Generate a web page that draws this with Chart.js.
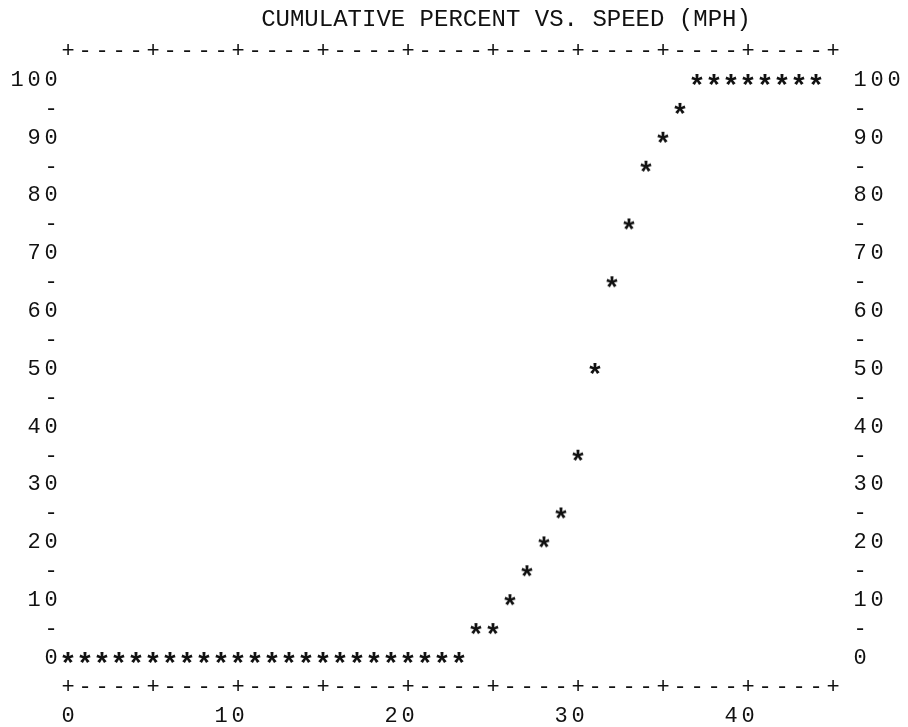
<!DOCTYPE html>
<html>
<head>
<meta charset="utf-8">
<title>Cumulative percent vs. speed</title>
<script src="https://cdn.jsdelivr.net/npm/chart.js@4/dist/chart.umd.min.js"></script>
<style>
  html, body { margin: 0; padding: 0; background: #fff; }
  #wrap { width: 908px; height: 727px; }
</style>
</head>
<body>
<div id="wrap"><canvas id="grafico" width="908" height="727"></canvas></div>
<script>
const speedMph = [0, 1, 2, 3, 4, 5, 6, 7, 8, 9, 10, 11, 12, 13, 14, 15, 16, 17, 18, 19, 20, 21, 22, 23,
  24, 25, 26, 27, 28, 29, 30, 31, 32, 33, 34, 35, 36, 37, 38, 39, 40, 41, 42, 43, 44];
const cumPercent = [0, 0, 0, 0, 0, 0, 0, 0, 0, 0, 0, 0, 0, 0, 0, 0, 0, 0, 0, 0, 0, 0, 0, 0,
  5, 5, 10, 15, 20, 25, 35, 50, 65, 75, 85, 90, 95, 100, 100, 100, 100, 100, 100, 100, 100];

const yTickValues = [0, 10, 20, 30, 40, 50, 60, 70, 80, 90, 100];
const yTickLabels = ["0", "10", "20", "30", "40", "50", "60", "70", "80", "90", "100"];
const yHalfTicks = [5, 15, 25, 35, 45, 55, 65, 75, 85, 95];
const xTickValues = [0, 10, 20, 30, 40];
const xTickLabels = ["0", "10", "20", "30", "40"];
const chartTitle = "CUMULATIVE PERCENT VS. SPEED (MPH)";

const ink = "#111";
const mono = "'Liberation Mono', 'DejaVu Sans Mono', monospace";

// Asterisco de impresora como estilo de punto
function asterisco() {
  const c = document.createElement("canvas");
  c.width = 22;
  c.height = 22;
  const g = c.getContext("2d");
  g.fillStyle = ink;
  g.font = "bold 29px " + mono;
  g.textAlign = "center";
  g.textBaseline = "alphabetic";
  const m = g.measureText("*");
  const base = 11 + (m.actualBoundingBoxAscent - m.actualBoundingBoxDescent) / 2;
  g.fillText("*", 11, base);
  return c;
}

// Marco, marcas y etiquetas en caracteres, colocados con las escalas
const marcoAscii = {
  id: "marcoAscii",
  afterDraw(chart) {
    const { ctx, scales: { x, y } } = chart;
    ctx.save();
    ctx.fillStyle = ink;
    ctx.font = "22px " + mono;
    ctx.textAlign = "center";
    ctx.textBaseline = "middle";
    const put = (ch, xv, yv) => ctx.fillText(ch, x.getPixelForValue(xv), y.getPixelForValue(yv));

    // bordes superior e inferior
    for (let i = 0; i <= 45; i++) {
      const ch = i % 5 === 0 ? "+" : "-";
      put(ch, i, 105);
      put(ch, i, -5);
    }

    // eje izquierdo (alineado a la derecha) y derecho (alineado a la izquierda)
    yTickValues.forEach((v, k) => {
      const lab = yTickLabels[k];
      for (let j = 0; j < lab.length; j++) {
        put(lab[j], -lab.length + j, v);
        put(lab[j], 46.6 + j, v);
      }
    });
    yHalfTicks.forEach(v => {
      put("-", -1, v);
      put("-", 46.6, v);
    });

    // etiquetas del eje x
    xTickValues.forEach((v, k) => {
      const lab = xTickLabels[k];
      for (let j = 0; j < lab.length; j++) {
        put(lab[lab.length - 1 - j], v - j, -10);
      }
    });

    // título
    ctx.font = "24px " + mono;
    ctx.fillText(chartTitle, 506, 20);
    ctx.restore();
  }
};

const ctx = document.getElementById("grafico").getContext("2d");
new Chart(ctx, {
  type: "scatter",
  data: {
    datasets: [{
      label: "Cumulative percent",
      data: speedMph.map((s, i) => ({ x: s, y: cumPercent[i] })),
      pointStyle: asterisco(),
      showLine: false,
      clip: false
    }]
  },
  options: {
    responsive: false,
    animation: false,
    devicePixelRatio: 1,
    layout: { padding: { left: 68, right: 75, top: 80, bottom: 69 } },
    scales: {
      x: { type: "linear", min: 0, max: 45, display: false },
      y: { type: "linear", min: 0, max: 100, display: false }
    },
    plugins: {
      legend: { display: false },
      tooltip: { enabled: false }
    }
  },
  plugins: [marcoAscii]
});
</script>
</body>
</html>
